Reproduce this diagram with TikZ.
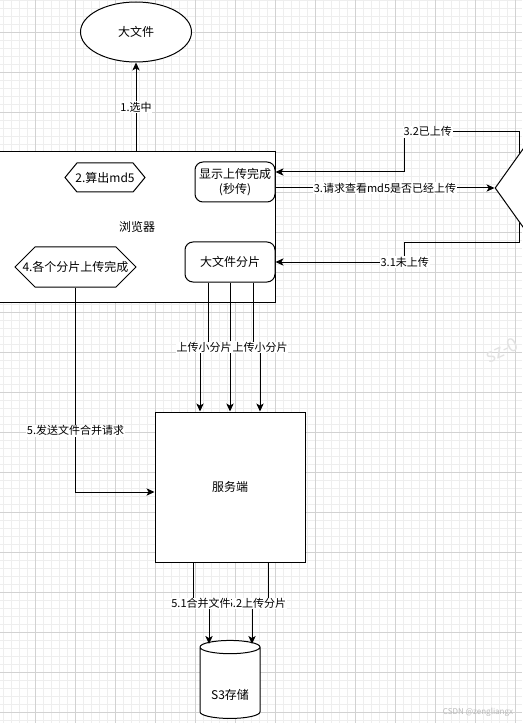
\documentclass[tikz,border=0pt]{standalone}
\usepackage{fontspec}
\setmainfont{Noto Sans CJK SC}
\usetikzlibrary{arrows.meta,positioning,calc,shapes.geometric,shapes.symbols}
\definecolor{GridMajor}{RGB}{210,210,210}
\definecolor{GridMinor}{RGB}{238,238,238}
\definecolor{Mark}{RGB}{185,185,185}
\definecolor{MarkSoft}{RGB}{226,226,226}

\begin{document}
\begin{tikzpicture}[x=0.75pt, y=-0.75pt,
    box/.style={draw, line width=0.75pt, fill=white, align=center, inner sep=0pt,
      font=\fontsize{9}{11}\selectfont},
    soft/.style={box, rounded corners=6pt},
    hexa/.style={box, signal, signal to=west and east},
    lbl/.style={fill=white, inner sep=0.6pt, font=\fontsize{8.25}{10}\selectfont},
    arr/.style={-{Stealth[length=6pt, width=5.5pt, inset=1.6pt]}, line width=0.75pt}
  ]
    \useasboundingbox (0,0) rectangle (522,723);
    \fill[white] (0,0) rectangle (522,723);
    % grid of the canvas
    \foreach \x in {3,11,...,523} \draw[GridMinor, line width=0.6pt] (\x,0) -- (\x,723);
    \foreach \y in {0,8,...,720} \draw[GridMinor, line width=0.6pt] (0,\y) -- (522,\y);
    \foreach \x in {35,75,...,515} \draw[GridMajor, line width=0.6pt] (\x,0) -- (\x,723);
    \foreach \y in {32,72,...,712} \draw[GridMajor, line width=0.6pt] (0,\y) -- (522,\y);
    \node[MarkSoft, rotate=25, font=\fontsize{14}{14}\selectfont] (wm) at (502,350) {sz-0};

    \node[box, ellipse, minimum width=83.25pt, minimum height=45pt] (big) at (136,32) {大文件};
    \node[box, minimum width=207pt, minimum height=112.5pt] (br) at (137,227) {浏览器};
    \node[hexa, minimum width=60pt, minimum height=21.75pt, signal pointer angle=101]
      (md5) at (105,177.5) {\makebox[0pt]{2.算出md5}};
    \node[hexa, minimum width=90.75pt, minimum height=30pt, signal pointer angle=90]
      (hex4) at (75.5,267) {\makebox[0pt]{4.各个分片上传完成}};
    \node[soft, minimum width=60pt, minimum height=30pt] (done) at (235,182) {显示上传完成\\(秒传)};
    \node[soft, minimum width=67.5pt, minimum height=30pt] (slice) at (230,262) {大文件分片};
    \node[box, diamond, minimum width=75pt, minimum height=105pt] (dec) at (545,188) {};
    \node[box, minimum width=112.5pt, minimum height=112.5pt] (srv) at (230,487) {服务端};
    \node[box, cylinder, shape border rotate=90, aspect=0.35, minimum width=45pt,
      minimum height=58.5pt, text height=27pt, text depth=2pt] (s3) at (230,683) {S3存储};

    \coordinate (p32) at ($(dec.west)!0.5!(dec.north)$);
    \coordinate (p31) at ($(dec.west)!0.5!(dec.south)$);

    \draw[arr] (big.south |- br.north) -- node[lbl]{1.选中} (big.south);
    \draw[arr] (done.east |- dec.west) -- node[lbl]{3.请求查看md5是否已经上传} (dec.west);
    \draw[arr] (p32) |- node[lbl, pos=0.9]{3.2已上传} ($(p32)+(-115,-21)$)
      |- ($(done.east)+(0,-10)$);
    \draw[arr] (p31) |- ($(p31)+(-115,19)$) |- node[lbl]{3.1未上传} (slice.east);

    \draw[arr] (slice.south) -- node[lbl]{上传小分片} (srv.north);
    \draw[arr] ($(slice.south)+(-22,0)$) -- ++(0,65)
      -| node[lbl, pos=0.25]{上传小分片} ($(srv.north)+(-30,0)$);
    \draw[arr] ($(slice.south)+(23,0)$) -- ++(0,65)
      -| node[lbl, pos=0.5]{上传小分片} ($(srv.north)+(30,0)$);

    \draw[arr] (hex4.south) |- node[lbl, pos=0.35]{5.发送文件合并请求} ($(srv.west)+(0,5)$);

    \draw[arr] ($(srv.south)+(38,0)$) -- ++(0,41)
      -| node[lbl, pos=0.36]{5.2上传分片} ($(s3.north)+(22,4)$);
    \draw[arr] ($(srv.south)+(-37,0)$) -- ++(0,41)
      -| node[lbl, pos=0.25]{5.1合并文件} ($(s3.north)+(-21,4)$);

    \node[Mark, font=\fontsize{6}{7}\selectfont] (csdn) at (478,712) {CSDN @zengliangx};
\end{tikzpicture}
\end{document}
